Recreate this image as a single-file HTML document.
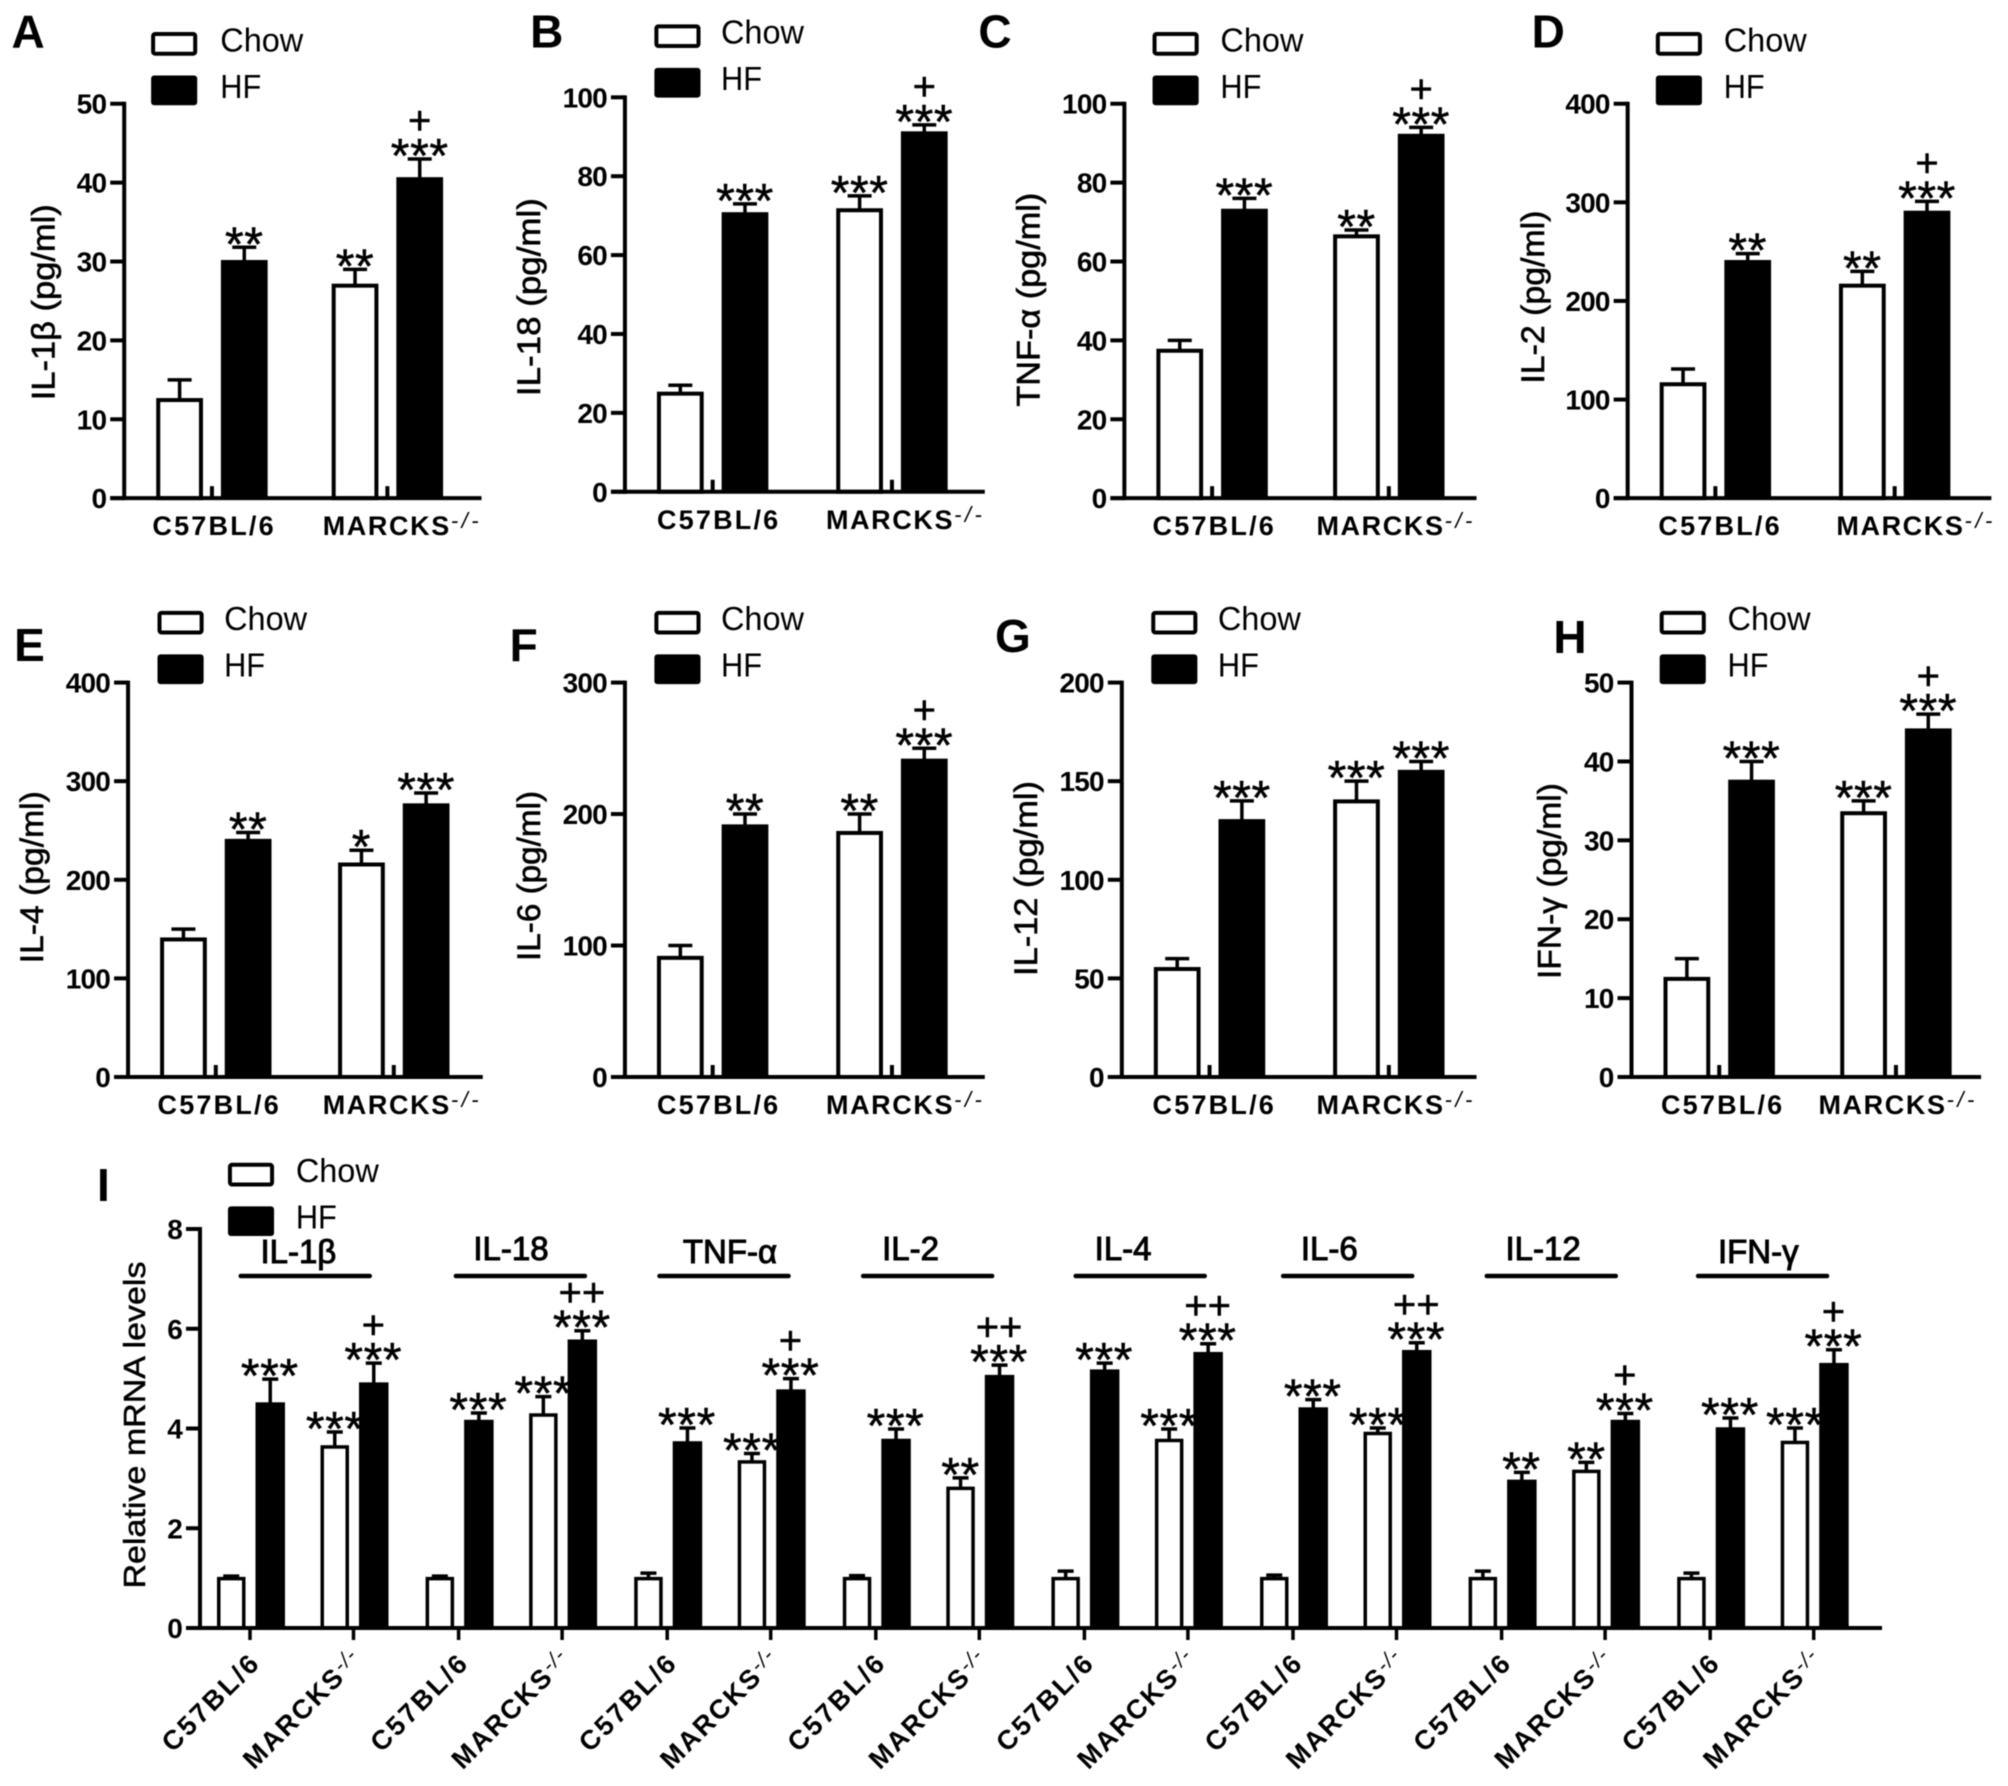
<!DOCTYPE html>
<html lang="en">
<head>
<meta charset="utf-8">
<title>Cytokine levels in chow and HF fed mice</title>
<style>
html,body{margin:0;padding:0;background:#fff;width:2008px;height:1786px;overflow:hidden}
svg{display:block;filter:blur(0.55px)}
text{font-family:"Liberation Sans",sans-serif;fill:#000}
</style>
</head>
<body>
<svg id="figure" xmlns="http://www.w3.org/2000/svg" width="2008" height="1786" viewBox="0 0 2008 1786">
<rect x="0" y="0" width="2008" height="1786" fill="#fff"/>
</svg>
<script>
/* ---------- shared labels ---------- */
const categories = ['C57BL/6', 'MARCKS'];
const seriesNames = ['Chow', 'HF'];

/* ---------- panel A: IL-1β ---------- */
const aTicks = [0, 10, 20, 30, 40, 50];
const aChow = [12.5, 27];
const aHf = [30, 40.5];
const aChowTop = [15, 29];
const aHfTop = [31.8, 43];
const aMarks = ['', '**', '**', '+|***'];
/* ---------- panel B: IL-18 ---------- */
const bTicks = [0, 20, 40, 60, 80, 100];
const bChow = [25, 71.5];
const bHf = [70.5, 91];
const bChowTop = [27, 75];
const bHfTop = [73, 93];
const bMarks = ['', '***', '***', '+|***'];
/* ---------- panel C: TNF-α ---------- */
const cTicks = [0, 20, 40, 60, 80, 100];
const cChow = [37.5, 66.5];
const cHf = [73, 92];
const cChowTop = [40, 68];
const cHfTop = [76, 94];
const cMarks = ['', '***', '**', '+|***'];
/* ---------- panel D: IL-2 ---------- */
const dTicks = [0, 100, 200, 300, 400];
const dChow = [116, 216];
const dHf = [240, 290];
const dChowTop = [131, 230];
const dHfTop = [248, 301];
const dMarks = ['', '**', '**', '+|***'];
/* ---------- panel E: IL-4 ---------- */
const eTicks = [0, 100, 200, 300, 400];
const eChow = [140, 216];
const eHf = [240, 276];
const eChowTop = [150, 230];
const eHfTop = [248, 288];
const eMarks = ['', '**', '*', '***'];
/* ---------- panel F: IL-6 ---------- */
const fTicks = [0, 100, 200, 300];
const fChow = [91, 186];
const fHf = [191, 241];
const fChowTop = [100, 200];
const fHfTop = [200, 250];
const fMarks = ['', '**', '**', '+|***'];
/* ---------- panel G: IL-12 ---------- */
const gTicks = [0, 50, 100, 150, 200];
const gChow = [55, 140];
const gHf = [130, 155];
const gChowTop = [60, 150];
const gHfTop = [140, 160];
const gMarks = ['', '***', '***', '***'];
/* ---------- panel H: IFN-γ ---------- */
const hTicks = [0, 10, 20, 30, 40, 50];
const hChow = [12.5, 33.5];
const hHf = [37.5, 44];
const hChowTop = [15, 35];
const hHfTop = [40, 46];
const hMarks = ['', '***', '***', '+|***'];
/* ---------- panel I: relative mRNA ---------- */
const mrnaTicks = [0, 2, 4, 6, 8];
const mrnaGenes = ['IL-1β', 'IL-18', 'TNF-α', 'IL-2', 'IL-4', 'IL-6', 'IL-12', 'IFN-γ'];
const mrnaChowWt = [1, 1, 1.0, 1.0, 1.0, 1.0, 1.0, 1.0];
const mrnaHfWt = [4.5, 4.15, 3.72, 3.77, 5.16, 4.4, 2.95, 4.0];
const mrnaChowKo = [3.64, 4.28, 3.34, 2.81, 3.77, 3.91, 3.15, 3.73];
const mrnaHfKo = [4.9, 5.76, 4.76, 5.05, 5.51, 5.55, 4.15, 5.29];
const mrnaChowWtTop = [1.04, 1.04, 1.1, 1.05, 1.14, 1.06, 1.14, 1.1];
const mrnaHfWtTop = [4.99, 4.31, 4.01, 3.99, 5.31, 4.58, 3.12, 4.21];
const mrnaChowKoTop = [3.93, 4.64, 3.5, 3.01, 3.99, 4.01, 3.32, 4.01];
const mrnaHfKoTop = [5.31, 5.96, 5.0, 5.27, 5.7, 5.72, 4.3, 5.58];
const mrnaHfWtMarks = ['***', '***', '***', '***', '***', '***', '**', '***'];
const mrnaChowKoMarks = ['***', '***', '***', '**', '***', '***', '**', '***'];
const mrnaHfKoMarks = ['+|***', '++|***', '+|***', '++|***', '++|***', '++|***', '+|***', '+|***'];

/* ---------- helpers ---------- */
const svg = document.getElementById('figure');
const NS = 'http://www.w3.org/2000/svg';
const K = 2008 / 1568; // layout below is measured in a 1568-wide frame
function make(tag, attrs, parent) {
  const e = document.createElementNS(NS, tag);
  for (const a in attrs) e.setAttribute(a, attrs[a]);
  parent.appendChild(e);
  return e;
}
function line(x1, y1, x2, y2, w, parent, cap) {
  return make('line', {x1, y1, x2, y2, stroke: '#000', 'stroke-width': w, 'stroke-linecap': cap || 'butt'}, parent);
}
function drawMarks(spec, cx, capY, parent) {
  if (!spec) return;
  const rows = spec.split('|');
  const stars = rows[rows.length - 1];
  const starY = capY - 15;
  const s = make('text', {x: cx, y: starY + 28, 'text-anchor': 'middle', 'font-size': 48, 'letter-spacing': 0.6, stroke: '#000', 'stroke-width': 0.5}, parent);
  s.textContent = stars;
  
  
  if (rows.length > 1) {
    const p = make('text', {x: cx, y: starY - 23 + 13.2, 'text-anchor': 'middle', 'font-size': 40, stroke: '#000', 'stroke-width': 0.5}, parent);
    p.textContent = rows[0];
    
    
  }
}
function drawLegend(L, parent) {
  const g = make('g', {}, parent);
  
  
  const w = 36 * K, h = 18.5 * K;
  const y1 = L.y * K, y2 = (L.y + 34) * K;
  const s1 = make('rect', {x: L.x * K + 2, y: y1 + 2, width: w - 4, height: h - 4, rx: 2, fill: '#fff', stroke: '#000', 'stroke-width': 4}, g);
  
  
  const s2 = make('rect', {x: L.x * K, y: y2, width: w, height: h + 6, rx: 3, fill: '#000'}, g);
  
  
  const t1 = make('text', {x: L.tx * K, y: y1 + h / 2 + 7.5, 'font-size': 33, textLength: 83, lengthAdjust: 'spacingAndGlyphs'}, g);
  t1.textContent = seriesNames[0];
  
  
  const t2 = make('text', {x: L.tx * K, y: y2 + h / 2 + 10.5, 'font-size': 33, textLength: 41, lengthAdjust: 'spacingAndGlyphs'}, g);
  t2.textContent = seriesNames[1];
  
  
}
function drawYAxis(ax, top, y0, ticks, yOf, stub, parent) {
  const g = make('g', {}, parent);
  
  
  const v = line(ax, top - 2, ax, y0 + 2, 4, g);
  
  
  ticks.forEach(function (t) {
    const ty = yOf(t);
    const tk = line(ax - stub, ty, ax, ty, 4, g);
    
    
    const lb = make('text', {x: ax - stub - 4, y: ty + 10, 'text-anchor': 'end', 'font-size': 28, 'font-weight': 'bold', 'letter-spacing': -0.8}, g);
    lb.textContent = String(t);
    
    
  });
}
function drawBar(x, w, value, top, y0, yOf, series, sw, capW, parent) {
  const yv = yOf(value), yt = yOf(top), cx = x + w / 2;
  const stem = line(cx, yv, cx, yt, 3.5, parent);
  
  
  const cap = line(cx - capW / 2, yt, cx + capW / 2, yt, 3.5, parent);
  
  
  let r;
  if (series === 0) {
    r = make('rect', {x: x + sw / 2, y: yv + 0.5, width: w - sw, height: y0 - yv - 0.5, fill: '#fff', stroke: '#000', 'stroke-width': sw}, parent);
  } else {
    r = make('rect', {x: x, y: yv - sw / 2 + 0.5, width: w, height: y0 - yv + sw / 2 - 0.5, fill: '#000'}, parent);
  }
  
  
}

/* ---------- layout of the eight small panels ---------- */
const panelLayouts = [
  {id:'A', title:'IL-1β (pg/ml)', tLen:196, tx:34, ty:236, ax:97, y0:389, top:81, gap:137, end:376, c:119, m:252, leg:{x:118,y:25,tx:172}, lx:9, ly:37, ticks:aTicks, chow:aChow, hf:aHf, chowTop:aChowTop, hfTop:aHfTop, marks:aMarks},
  {id:'B', title:'IL-18 (pg/ml)', tLen:198, tx:413, ty:232, ax:488, y0:384, top:76, gap:140, end:769, c:513, m:645, leg:{x:511,y:19,tx:563}, lx:414, ly:37, ticks:bTicks, chow:bChow, hf:bHf, chowTop:bChowTop, hfTop:bHfTop, marks:bMarks},
  {id:'C', title:'TNF-α (pg/ml)', tLen:214, tx:803, ty:234, ax:878, y0:389, top:81, gap:138, end:1153, c:900, m:1028, leg:{x:900,y:25,tx:953}, lx:764, ly:37, ticks:cTicks, chow:cChow, hf:cHf, chowTop:cChowTop, hfTop:cHfTop, marks:cMarks},
  {id:'D', title:'IL-2 (pg/ml)', tLen:173, tx:1197, ty:232, ax:1271, y0:389, top:81, gap:140, end:1555, c:1295, m:1434, leg:{x:1293,y:25,tx:1346}, lx:1196, ly:37, ticks:dTicks, chow:dChow, hf:dHf, chowTop:dChowTop, hfTop:dHfTop, marks:dMarks},
  {id:'E', title:'IL-4 (pg/ml)', tLen:172, tx:25, ty:685, ax:100, y0:841, top:533, gap:139, end:377, c:123, m:252, leg:{x:123,y:477,tx:175}, lx:11, ly:516, ticks:eTicks, chow:eChow, hf:eHf, chowTop:eChowTop, hfTop:eHfTop, marks:eMarks},
  {id:'F', title:'IL-6 (pg/ml)', tLen:170, tx:413, ty:684, ax:488, y0:841, top:533, gap:140, end:769, c:513, m:645, leg:{x:511,y:477,tx:563}, lx:398, ly:516, ticks:fTicks, chow:fChow, hf:fHf, chowTop:fChowTop, hfTop:fHfTop, marks:fMarks},
  {id:'G', title:'IL-12 (pg/ml)', tLen:195, tx:801, ty:686, ax:876, y0:841, top:533, gap:140, end:1153, c:900, m:1028, leg:{x:899,y:477,tx:951}, lx:777, ly:509, ticks:gTicks, chow:gChow, hf:gHf, chowTop:gChowTop, hfTop:gHfTop, marks:gMarks},
  {id:'H', title:'IFN-γ (pg/ml)', tLen:196, tx:1210, ty:688, ax:1274, y0:841, top:533, gap:138, end:1547, c:1297, m:1420, leg:{x:1296,y:477,tx:1349}, lx:1213, ly:510, ticks:hTicks, chow:hChow, hf:hHf, chowTop:hChowTop, hfTop:hHfTop, marks:hMarks}
];

panelLayouts.forEach(function (P) {
  const g = make('g', {}, svg);
  
  
  const ax = P.ax * K, y0 = P.y0 * K, top = P.top * K;
  const maxV = P.ticks[P.ticks.length - 1];
  const yOf = function (v) { return y0 - v / maxV * (y0 - top); };
  const xOf = function (group, series) { return (P.ax + 25 + group * P.gap + series * 50.5) * K; };
  const barW = 36.5 * K;

  const letter = make('text', {x: P.lx * K, y: P.ly * K, 'font-size': 46, 'font-weight': 'bold'}, g);
  letter.textContent = P.id;
  
  

  drawLegend(P.leg, g);

  const title = make('text', {x: 0, y: 0, transform: 'translate(' + (P.tx * K + 11) + ',' + (P.ty * K) + ') rotate(-90)', 'text-anchor': 'middle', 'font-size': 32, textLength: P.tLen, lengthAdjust: 'spacingAndGlyphs', stroke: '#000', 'stroke-width': 0.6}, g);
  title.textContent = P.title;
  
  

  [0, 1].forEach(function (grp) {
    drawBar(xOf(grp, 0), barW, P.chow[grp], P.chowTop[grp], y0, yOf, 0, 4, 24, g);
    drawBar(xOf(grp, 1), barW, P.hf[grp], P.hfTop[grp], y0, yOf, 1, 4, 24, g);
    drawMarks(P.marks[grp * 2], xOf(grp, 0) + barW / 2, yOf(P.chowTop[grp]), g);
    drawMarks(P.marks[grp * 2 + 1], xOf(grp, 1) + barW / 2, yOf(P.hfTop[grp]), g);
    const mid = (xOf(grp, 0) + barW + xOf(grp, 1)) / 2;
    const st = line(mid, y0 - 12, mid, y0, 4, g);
    
    
  });

  const xAxis = line(ax - 14, y0, P.end * K, y0, 4, g);
  
  
  drawYAxis(ax, top, y0, P.ticks, yOf, 14, g);

  const baseY = y0 + 37;
  const c = make('text', {x: P.c * K, y: baseY, 'font-size': 27, 'font-weight': 'bold', 'letter-spacing': 2.2}, g);
  c.textContent = categories[0];
  
  
  const m = make('text', {x: P.m * K, y: baseY, 'font-size': 27, 'font-weight': 'bold', 'letter-spacing': 1.6}, g);
  m.textContent = categories[1];
  
  
  const sup = make('tspan', {dy: -7, 'font-size': 22, 'font-style': 'italic', 'font-weight': 'normal', 'letter-spacing': 3.5}, m);
  sup.textContent = '-/-';
  
  
});

/* ---------- panel I ---------- */
const mrnaBracketStarts = [188, 356, 515, 674, 840, 1002, 1161, 1326];
const mrnaLabelCentres = [233, 399, 570, 711, 877, 1038, 1205, 1373];
(function () {
  const g = make('g', {}, svg);
  
  
  const ax = 200, y0 = 1628, top = 1229, endX = 1882;
  const maxV = mrnaTicks[mrnaTicks.length - 1];
  const yOf = function (v) { return y0 - v / maxV * (y0 - top); };
  const groupStep = 208.6;
  const xOf = function (gene, pair, series) { return 217 + gene * groupStep + pair * 103.5 + series * 38.5; };
  const barW = 28.5;

  const letter = make('text', {x: 97, y: 1201, 'font-size': 46, 'font-weight': 'bold'}, g);
  letter.textContent = 'I';
  
  

  drawLegend({x: 178, y: 908, tx: 231}, g);

  const title = make('text', {x: 0, y: 0, transform: 'translate(145,1425) rotate(-90)', 'text-anchor': 'middle', 'font-size': 31, textLength: 327, lengthAdjust: 'spacingAndGlyphs', stroke: '#000', 'stroke-width': 0.5}, g);
  title.textContent = 'Relative mRNA levels';
  
  

  mrnaGenes.forEach(function (gene, i) {
    const gg = make('g', {}, g);
    
    
    const lineX = mrnaBracketStarts[i] * K;
    const hdr = make('text', {x: mrnaLabelCentres[i] * K, y: 1260 + (i === 0 || i === 2 || i === 7 ? 3 : 0), 'text-anchor': 'middle', 'font-size': 33, stroke: '#000', 'stroke-width': 1}, gg);
    hdr.textContent = gene;
    
    
    const br = line(lineX, 1276, lineX + 129, 1276, 4.5, gg, 'round');
    
    

    drawBar(xOf(i, 0, 0), barW, mrnaChowWt[i], mrnaChowWtTop[i], y0, yOf, 0, 3.5, 16, gg);
    drawBar(xOf(i, 0, 1), barW + 1, mrnaHfWt[i], mrnaHfWtTop[i], y0, yOf, 1, 3.5, 16, gg);
    drawBar(xOf(i, 1, 0), barW, mrnaChowKo[i], mrnaChowKoTop[i], y0, yOf, 0, 3.5, 16, gg);
    drawBar(xOf(i, 1, 1), barW + 1, mrnaHfKo[i], mrnaHfKoTop[i], y0, yOf, 1, 3.5, 16, gg);
    drawMarks(mrnaHfWtMarks[i], xOf(i, 0, 1) + barW / 2, yOf(mrnaHfWtTop[i]), gg);
    drawMarks(mrnaChowKoMarks[i], xOf(i, 1, 0) + barW / 2, yOf(mrnaChowKoTop[i]), gg);
    drawMarks(mrnaHfKoMarks[i], xOf(i, 1, 1) + barW / 2, yOf(mrnaHfKoTop[i]), gg);

    [0, 1].forEach(function (pair) {
      const tx = 250 + i * groupStep + pair * 103.5;
      const tk = line(tx, y0, tx, y0 + 12, 3.5, gg);
      
      
      const lb = make('text', {x: 0, y: 0, transform: 'translate(' + (tx + (pair ? 10 : 12)) + ',' + (pair ? 1661 : 1664) + ') rotate(-45)', 'text-anchor': 'end', 'font-size': 27, 'font-weight': 'bold', 'letter-spacing': pair ? 2 : 2.6}, gg);
      lb.textContent = categories[pair];
      
      
      if (pair) {
        const sup = make('tspan', {dy: -7, 'font-size': 21, 'font-style': 'italic', 'font-weight': 'normal', 'letter-spacing': 1.5}, lb);
        sup.textContent = '-/-';
        
        
      }
    });
  });

  const xAxis = line(ax - 14, y0, endX, y0, 4, g);
  
  
  drawYAxis(ax, top, y0, mrnaTicks, yOf, 14, g);
})();
</script>
</body>
</html>
